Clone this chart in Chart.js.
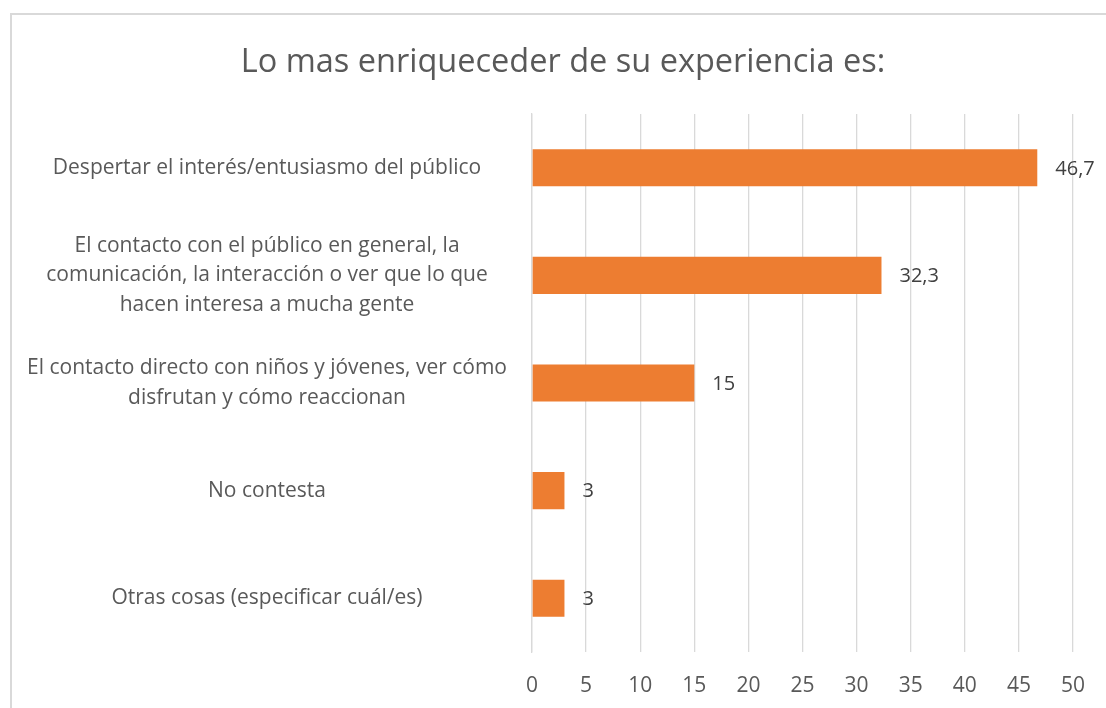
<!DOCTYPE html>
<html>
<head>
<meta charset="utf-8">
<script src="https://cdn.jsdelivr.net/npm/chart.js@4"></script>
<style>
  html, body { margin: 0; padding: 0; background: #fff; overflow: hidden; }
  #box {
    position: absolute; left: 10px; top: 13px;
    width: 1110px; height: 720px;
    border: 2px solid #d9d9d9; background: #fff;
  }
  #bar { position: absolute; left: 0; top: 0; }
</style>
</head>
<body>
<div id="box"><canvas id="bar" width="1094" height="693"></canvas></div>
<script>
var titleText = 'Lo mas enriqueceder de su experiencia es:';
var categories = [
    ['Despertar el interés/entusiasmo del público'],
    ['El contacto con el público en general, la', 'comunicación, la interacción o ver que lo que', 'hacen interesa a mucha gente'],
    ['El contacto directo con niños y jóvenes, ver cómo', 'disfrutan y cómo reaccionan'],
    ['No contesta'],
    ['Otras cosas (especificar cuál/es)']
];
var values = [46.7, 32.3, 15, 3, 3];
var xTicks = [0, 5, 10, 15, 20, 25, 30, 35, 40, 45, 50];

var font = "'Open Sans', sans-serif";

// value labels at the end of each bar
var valueLabels = {
    id: 'valueLabels',
    afterDatasetsDraw: function (chart) {
        var c = chart.ctx;
        var meta = chart.getDatasetMeta(0);
        c.save();
        c.font = '20px ' + font;
        c.fillStyle = '#404040';
        c.textBaseline = 'middle';
        c.textAlign = 'left';
        meta.data.forEach(function (bar, i) {
            var txt = String(values[i]).replace('.', ',');
            c.fillText(txt, bar.x + 18, bar.y + 1);
        });
        c.restore();
    }
};

// the title in the original sits a bit right of the canvas centre
var titleShift = {
    id: 'titleShift',
    afterLayout: function (chart) {
        if (chart.titleBlock) chart.titleBlock.left += 37;
    }
};

var ctx = document.getElementById("bar").getContext("2d");
var myChart = new Chart(ctx, {
    type: 'bar',
    data: {
        labels: categories,
        datasets: [{
            label: 'Serie 1',
            data: values,
            backgroundColor: '#ED7D31',
            borderWidth: 0,
            categoryPercentage: 1,
            barPercentage: 0.345
        }]
    },
    options: {
        indexAxis: 'y',
        responsive: false,
        animation: false,
        layout: { padding: { top: 28, left: 0, right: 29, bottom: 0 } },
        plugins: {
            legend: { display: false },
            tooltip: { enabled: false },
            title: {
                display: true,
                text: titleText,
                color: '#595959',
                font: { family: font, size: 32.5, weight: 'normal', lineHeight: 1.2 },
                padding: { top: 0, bottom: 32 }
            }
        },
        scales: {
            x: {
                min: 0,
                max: 50,
                afterBuildTicks: function (axis) {
                    axis.ticks = xTicks.map(function (v) { return { value: v }; });
                },
                afterFit: function (axis) { axis.height = 56; },
                grid: { color: '#d9d9d9', lineWidth: 1.3, drawTicks: false },
                border: { display: false },
                ticks: {
                    color: '#595959',
                    padding: 21,
                    font: { family: font, size: 21 }
                }
            },
            y: {
                grid: { display: false, drawTicks: false },
                border: { display: true, color: '#d9d9d9', width: 1.3 },
                afterFit: function (axis) { axis.width = 520; },
                ticks: {
                    color: '#595959',
                    padding: 25,
                    crossAlign: 'center',
                    autoSkip: false,
                    font: { family: font, size: 21, lineHeight: 1.4 }
                }
            }
        }
    },
    plugins: [valueLabels, titleShift]
});
</script>
</body>
</html>
